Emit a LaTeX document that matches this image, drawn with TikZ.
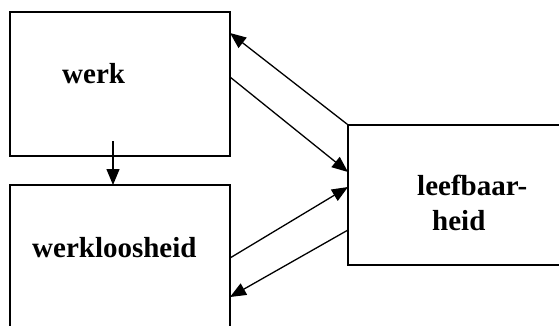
\documentclass[tikz,border=0pt]{standalone}
\usepackage{fontspec}
\setmainfont{Liberation Serif}
\usetikzlibrary{arrows.meta}
\begin{document}
\begin{tikzpicture}[x=1pt,y=-1pt,
  box/.style={draw,line width=1.6pt,minimum width=#1,inner sep=0pt},
  lbl/.style={font=\fontsize{29}{32}\selectfont\bfseries,inner sep=0pt,anchor=base west},
  conn/.style={line width=1.3pt,-{Triangle[length=16pt,width=13pt]}}]
\useasboundingbox (0,0) rectangle (559,325);
\clip (0,0) rectangle (559,325);
\node[box=220pt,minimum height=144pt] (werk) at (120,84) {};
\node[box=220pt,minimum height=160pt] (werkl) at (120,265) {};
\node[box=232pt,minimum height=140pt] (leef) at (464,195) {};
\node[lbl] (t1) at (62,83) {werk};
\node[lbl] (t2) at (32,257) {werkloosheid};
\node[lbl] (t3) at (417,195) {leefbaar-};
\node[lbl] (t4) at (432,230) {heid};
\coordinate (d1) at (113,141);
\coordinate (d2) at (113,185);
\coordinate (a1) at (230,33);
\coordinate (b1) at (230,77);
\coordinate (b2) at (348,172);
\coordinate (c1) at (230,258);
\coordinate (c2) at (348,187);
\coordinate (e1) at (348,230);
\coordinate (e2) at (230,297);
\draw[conn] (d1) -- (d2);
\draw[conn] (leef.north west) -- (a1);
\draw[conn] (b1) -- (b2);
\draw[conn] (c1) -- (c2);
\draw[conn] (e1) -- (e2);
\end{tikzpicture}
\end{document}
